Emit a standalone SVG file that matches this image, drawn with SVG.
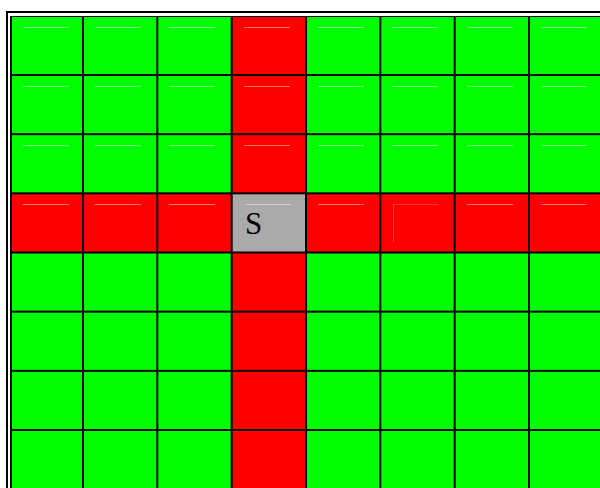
<svg xmlns="http://www.w3.org/2000/svg" width="600" height="488" viewBox="0 0 600 488">
<style>
.g{fill:#00ff00}.r{fill:#ff0000}.s{fill:#aaaaaa}
.h{stroke:#ffffff;stroke-opacity:0.45;stroke-width:1;fill:none}
.f{stroke:#ffffff;stroke-opacity:0.22;stroke-width:1;fill:none}
.t{font-family:"Liberation Serif","Times New Roman",serif;font-size:31px;fill:#000}
</style>
<rect x="0" y="0" width="600" height="488" fill="#ffffff"/>
<rect x="7" y="12" width="600" height="490" fill="none" stroke="#000" stroke-width="2"/>
<rect x="10" y="16" width="600" height="480" fill="#000"/>
<g id="row0">
<g id="c0-0"><rect class="g" x="12" y="17" width="70" height="57"/><line class="h" x1="23" y1="27.5" x2="69" y2="27.5"/></g>
<g id="c0-1"><rect class="g" x="84" y="17" width="72.33" height="57"/><line class="h" x1="95" y1="27.5" x2="141" y2="27.5"/></g>
<g id="c0-2"><rect class="g" x="158.33" y="17" width="72.34" height="57"/><line class="h" x1="169" y1="27.5" x2="215" y2="27.5"/></g>
<g id="c0-3"><rect class="r" x="232.67" y="17" width="72.33" height="57"/><line class="h" x1="244" y1="27.5" x2="290" y2="27.5"/></g>
<g id="c0-4"><rect class="g" x="307" y="17" width="72.33" height="57"/><line class="h" x1="318" y1="27.5" x2="364" y2="27.5"/></g>
<g id="c0-5"><rect class="g" x="381.33" y="17" width="72.34" height="57"/><line class="h" x1="392" y1="27.5" x2="438" y2="27.5"/></g>
<g id="c0-6"><rect class="g" x="455.67" y="17" width="72.33" height="57"/><line class="h" x1="467" y1="27.5" x2="513" y2="27.5"/></g>
<g id="c0-7"><rect class="g" x="530" y="17" width="72.33" height="57"/><line class="h" x1="541" y1="27.5" x2="587" y2="27.5"/></g>
</g>
<g id="row1">
<g id="c1-0"><rect class="g" x="12" y="76" width="70" height="57.17"/><line class="h" x1="23" y1="86.5" x2="69" y2="86.5"/></g>
<g id="c1-1"><rect class="g" x="84" y="76" width="72.33" height="57.17"/><line class="h" x1="95" y1="86.5" x2="141" y2="86.5"/></g>
<g id="c1-2"><rect class="g" x="158.33" y="76" width="72.34" height="57.17"/><line class="h" x1="169" y1="86.5" x2="215" y2="86.5"/></g>
<g id="c1-3"><rect class="r" x="232.67" y="76" width="72.33" height="57.17"/><line class="h" x1="244" y1="86.5" x2="290" y2="86.5"/></g>
<g id="c1-4"><rect class="g" x="307" y="76" width="72.33" height="57.17"/><line class="h" x1="318" y1="86.5" x2="364" y2="86.5"/></g>
<g id="c1-5"><rect class="g" x="381.33" y="76" width="72.34" height="57.17"/><line class="h" x1="392" y1="86.5" x2="438" y2="86.5"/></g>
<g id="c1-6"><rect class="g" x="455.67" y="76" width="72.33" height="57.17"/><line class="h" x1="467" y1="86.5" x2="513" y2="86.5"/></g>
<g id="c1-7"><rect class="g" x="530" y="76" width="72.33" height="57.17"/><line class="h" x1="541" y1="86.5" x2="587" y2="86.5"/></g>
</g>
<g id="row2">
<g id="c2-0"><rect class="g" x="12" y="135.17" width="70" height="57.16"/><line class="h" x1="23" y1="145.5" x2="69" y2="145.5"/></g>
<g id="c2-1"><rect class="g" x="84" y="135.17" width="72.33" height="57.16"/><line class="h" x1="95" y1="145.5" x2="141" y2="145.5"/></g>
<g id="c2-2"><rect class="g" x="158.33" y="135.17" width="72.34" height="57.16"/><line class="h" x1="169" y1="145.5" x2="215" y2="145.5"/></g>
<g id="c2-3"><rect class="r" x="232.67" y="135.17" width="72.33" height="57.16"/><line class="h" x1="244" y1="145.5" x2="290" y2="145.5"/></g>
<g id="c2-4"><rect class="g" x="307" y="135.17" width="72.33" height="57.16"/><line class="h" x1="318" y1="145.5" x2="364" y2="145.5"/></g>
<g id="c2-5"><rect class="g" x="381.33" y="135.17" width="72.34" height="57.16"/><line class="h" x1="392" y1="145.5" x2="438" y2="145.5"/></g>
<g id="c2-6"><rect class="g" x="455.67" y="135.17" width="72.33" height="57.16"/><line class="h" x1="467" y1="145.5" x2="513" y2="145.5"/></g>
<g id="c2-7"><rect class="g" x="530" y="135.17" width="72.33" height="57.16"/><line class="h" x1="541" y1="145.5" x2="587" y2="145.5"/></g>
</g>
<g id="row3">
<g id="c3-0"><rect class="r" x="12" y="194.33" width="70" height="57.17"/><line class="h" x1="23" y1="204.5" x2="69" y2="204.5"/></g>
<g id="c3-1"><rect class="r" x="84" y="194.33" width="72.33" height="57.17"/><line class="h" x1="95" y1="204.5" x2="141" y2="204.5"/></g>
<g id="c3-2"><rect class="r" x="158.33" y="194.33" width="72.34" height="57.17"/><line class="h" x1="169" y1="204.5" x2="215" y2="204.5"/></g>
<g id="c3-3"><rect class="s" x="232.67" y="194.33" width="72.33" height="57.17"/><line class="h" x1="246" y1="204.5" x2="291" y2="204.5"/><text class="t" x="245" y="234">S</text></g>
<g id="c3-4"><rect class="r" x="307" y="194.33" width="72.33" height="57.17"/><line class="h" x1="318" y1="204.5" x2="364" y2="204.5"/></g>
<g id="c3-5"><rect class="r" x="381.33" y="194.33" width="72.34" height="57.17"/><path class="f" d="M393.5 242V204.5H439"/></g>
<g id="c3-6"><rect class="r" x="455.67" y="194.33" width="72.33" height="57.17"/><line class="h" x1="467" y1="204.5" x2="513" y2="204.5"/></g>
<g id="c3-7"><rect class="r" x="530" y="194.33" width="72.33" height="57.17"/><line class="h" x1="541" y1="204.5" x2="587" y2="204.5"/></g>
</g>
<g id="row4">
<g id="c4-0"><rect class="g" x="12" y="253.5" width="70" height="57.17"/></g>
<g id="c4-1"><rect class="g" x="84" y="253.5" width="72.33" height="57.17"/></g>
<g id="c4-2"><rect class="g" x="158.33" y="253.5" width="72.34" height="57.17"/></g>
<g id="c4-3"><rect class="r" x="232.67" y="253.5" width="72.33" height="57.17"/></g>
<g id="c4-4"><rect class="g" x="307" y="253.5" width="72.33" height="57.17"/></g>
<g id="c4-5"><rect class="g" x="381.33" y="253.5" width="72.34" height="57.17"/></g>
<g id="c4-6"><rect class="g" x="455.67" y="253.5" width="72.33" height="57.17"/></g>
<g id="c4-7"><rect class="g" x="530" y="253.5" width="72.33" height="57.17"/></g>
</g>
<g id="row5">
<g id="c5-0"><rect class="g" x="12" y="312.67" width="70" height="57.16"/></g>
<g id="c5-1"><rect class="g" x="84" y="312.67" width="72.33" height="57.16"/></g>
<g id="c5-2"><rect class="g" x="158.33" y="312.67" width="72.34" height="57.16"/></g>
<g id="c5-3"><rect class="r" x="232.67" y="312.67" width="72.33" height="57.16"/></g>
<g id="c5-4"><rect class="g" x="307" y="312.67" width="72.33" height="57.16"/></g>
<g id="c5-5"><rect class="g" x="381.33" y="312.67" width="72.34" height="57.16"/></g>
<g id="c5-6"><rect class="g" x="455.67" y="312.67" width="72.33" height="57.16"/></g>
<g id="c5-7"><rect class="g" x="530" y="312.67" width="72.33" height="57.16"/></g>
</g>
<g id="row6">
<g id="c6-0"><rect class="g" x="12" y="371.83" width="70" height="57.17"/></g>
<g id="c6-1"><rect class="g" x="84" y="371.83" width="72.33" height="57.17"/></g>
<g id="c6-2"><rect class="g" x="158.33" y="371.83" width="72.34" height="57.17"/></g>
<g id="c6-3"><rect class="r" x="232.67" y="371.83" width="72.33" height="57.17"/></g>
<g id="c6-4"><rect class="g" x="307" y="371.83" width="72.33" height="57.17"/></g>
<g id="c6-5"><rect class="g" x="381.33" y="371.83" width="72.34" height="57.17"/></g>
<g id="c6-6"><rect class="g" x="455.67" y="371.83" width="72.33" height="57.17"/></g>
<g id="c6-7"><rect class="g" x="530" y="371.83" width="72.33" height="57.17"/></g>
</g>
<g id="row7">
<g id="c7-0"><rect class="g" x="12" y="431" width="70" height="60"/></g>
<g id="c7-1"><rect class="g" x="84" y="431" width="72.33" height="60"/></g>
<g id="c7-2"><rect class="g" x="158.33" y="431" width="72.34" height="60"/></g>
<g id="c7-3"><rect class="r" x="232.67" y="431" width="72.33" height="60"/></g>
<g id="c7-4"><rect class="g" x="307" y="431" width="72.33" height="60"/></g>
<g id="c7-5"><rect class="g" x="381.33" y="431" width="72.34" height="60"/></g>
<g id="c7-6"><rect class="g" x="455.67" y="431" width="72.33" height="60"/></g>
<g id="c7-7"><rect class="g" x="530" y="431" width="72.33" height="60"/></g>
</g>
</svg>
